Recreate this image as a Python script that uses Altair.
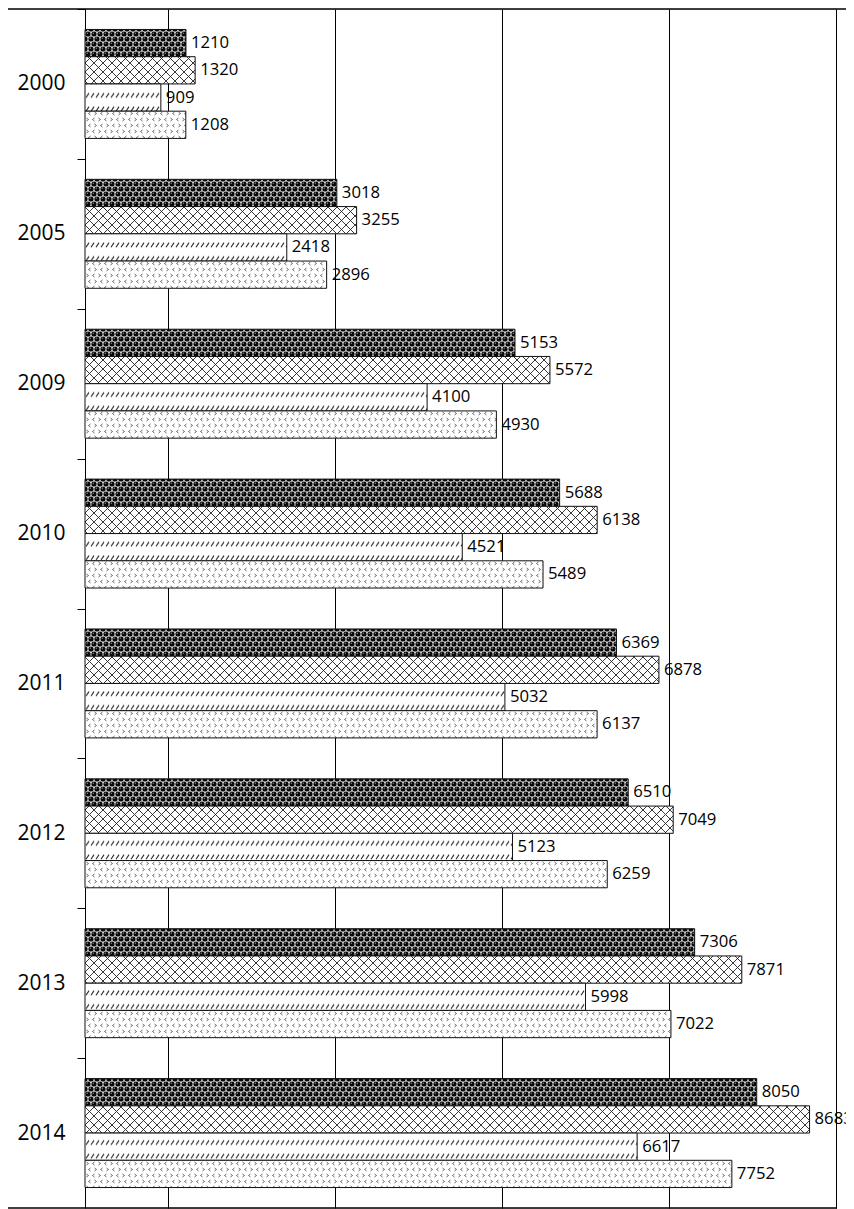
import altair as alt
import pandas as pd
import jinja2

# ---------------- data ----------------
years = ["2000", "2005", "2009", "2010", "2011", "2012", "2013", "2014"]
series = ["Series 1", "Series 2", "Series 3", "Series 4"]
s1 = [1210, 3018, 5153, 5688, 6369, 6510, 7306, 8050]
s2 = [1320, 3255, 5572, 6138, 6878, 7049, 7871, 8683]
s3 = [909, 2418, 4100, 4521, 5032, 5123, 5998, 6617]
s4 = [1208, 2896, 4930, 5489, 6137, 6259, 7022, 7752]
grid_values = [1000, 3000, 5000, 7000, 9000]
pattern_fills = ["url(#pDots)", "url(#pCross)", "url(#pHatch)", "url(#pChev)"]

rows = []
for i, y in enumerate(years):
    for s, vals in zip(series, [s1, s2, s3, s4]):
        rows.append({"year": y, "series": s, "value": vals[i]})
df = pd.DataFrame(rows)

W, H = 751, 1199
HALF_STEP = H / len(years) / 2

y_enc = alt.Y(
    "year:N",
    sort=years,
    scale=alt.Scale(paddingInner=0.273, paddingOuter=0.1365),
    axis=alt.Axis(
        title=None,
        tickOffset=-HALF_STEP,
        labelOffset=HALF_STEP,
        tickSize=8,
        tickColor="black",
        tickWidth=1,
        domainColor="black",
        domainWidth=1,
        labelFont="Open Sans",
        labelFontSize=21,
        labelColor="black",
        labelPadding=12,
        grid=False,
    ),
)
x_enc = alt.X(
    "value:Q",
    scale=alt.Scale(domain=[0, 9000], nice=False, zero=True),
    axis=alt.Axis(
        values=grid_values,
        grid=True,
        gridColor="black",
        gridOpacity=1,
        gridWidth=1,
        labels=False,
        ticks=False,
        domain=False,
        title=None,
    ),
)
yoff = alt.YOffset("series:N", sort=series, scale=alt.Scale(paddingInner=0, paddingOuter=0))

base = alt.Chart(df)
bars = base.mark_bar(stroke="#111", strokeWidth=1).encode(
    y=y_enc,
    x=x_enc,
    yOffset=yoff,
    fill=alt.Fill("series:N", scale=alt.Scale(domain=series, range=pattern_fills), legend=None),
)
labels = base.mark_text(
    align="left", baseline="middle", dx=5, font="Open Sans", fontSize=16.7, color="black"
).encode(
    y=alt.Y("year:N", sort=years),
    x=alt.X("value:Q"),
    yOffset=yoff,
    text=alt.Text("value:Q", format="d"),
)

frame_df = pd.DataFrame({"k": [0]})
top_line = alt.Chart(frame_df).mark_rule(color="black", strokeWidth=1.5).encode(
    x=alt.value(-77), x2=alt.value(W + 18), y=alt.value(0)
)
bottom_line = alt.Chart(frame_df).mark_rule(color="black", strokeWidth=1.5).encode(
    x=alt.value(-77), x2=alt.value(W + 1), y=alt.value(H)
)

chart = (
    alt.layer(bars, labels, top_line, bottom_line)
    .properties(
        width=W,
        height=H,
        autosize=alt.AutoSizeParams(type="none"),
        padding={"left": 77, "top": 1, "right": 18, "bottom": 1},
    )
    .configure_view(stroke=None)
    .configure(background="white")
)

PATTERNS = """
<pattern id="pDots" patternUnits="userSpaceOnUse" width="6" height="10">
  <rect width="6" height="10" fill="#e8e8e8"/>
  <circle cx="0" cy="0" r="2.6" fill="#0a0a0a"/>
  <circle cx="6" cy="0" r="2.6" fill="#0a0a0a"/>
  <circle cx="0" cy="10" r="2.6" fill="#0a0a0a"/>
  <circle cx="6" cy="10" r="2.6" fill="#0a0a0a"/>
  <circle cx="3" cy="5" r="2.6" fill="#0a0a0a"/>
  <circle cx="2.3" cy="4.2" r="0.6" fill="#aaa"/>
  <circle cx="5.3" cy="9.2" r="0.6" fill="#aaa"/>
</pattern>
<pattern id="pCross" patternUnits="userSpaceOnUse" width="9" height="9">
  <rect width="9" height="9" fill="#ffffff"/>
  <path d="M0,0 L9,9 M9,0 L0,9" stroke="#222" stroke-width="0.9" fill="none"/>
</pattern>
<pattern id="pHatch" patternUnits="userSpaceOnUse" width="5" height="13.6">
  <rect width="5" height="13.6" fill="#ffffff"/>
  <path d="M1,7 L4,2.5" stroke="#222" stroke-width="1.1" fill="none"/>
</pattern>
<pattern id="pChev" patternUnits="userSpaceOnUse" width="12" height="12">
  <rect width="12" height="12" fill="#ffffff"/>
  <path d="M1.5,1 L3.5,2.5 L1.5,4 M9.5,1 L7.5,2.5 L9.5,4 M5.5,7 L3.5,8.5 L5.5,10 M9.5,7 L11.5,8.5 L9.5,10" stroke="#444" stroke-width="0.8" fill="none"/>
</pattern>
"""

TEMPLATE = jinja2.Template(
    """<!DOCTYPE html>
<html>
<head>
  <meta charset="utf-8">
  <script type="text/javascript" src="{{ base_url }}/vega@{{ vega_version }}"></script>
  <script type="text/javascript" src="{{ base_url }}/vega-lite@{{ vegalite_version }}"></script>
  <script type="text/javascript" src="{{ base_url }}/vega-embed@{{ vegaembed_version }}"></script>
</head>
<body>
  <svg width="0" height="0" style="position:absolute"><defs>"""
    + PATTERNS
    + """</defs></svg>
  <div id="{{ output_div }}"></div>
  <script type="text/javascript">
    (function(vegaEmbed) {
      var spec = {{ spec }};
      var embedOpt = {{ embed_options }};
      function showError(el, error){
          el.innerHTML = ('<div style="color:red;"><p>JavaScript Error: ' + error.message + '</p></div>');
          throw error;
      }
      const el = document.getElementById('{{ output_div }}');
      vegaEmbed("#{{ output_div }}", spec, embedOpt).catch(error => showError(el, error));
    })(vegaEmbed);
  </script>
</body>
</html>"""
)

chart.save("out.html", embed_options={"renderer": "svg", "actions": False}, template=TEMPLATE)
